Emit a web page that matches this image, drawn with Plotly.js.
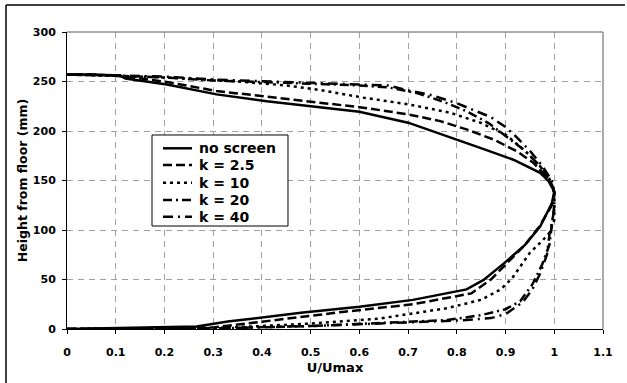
<!DOCTYPE html>
<html>
<head>
<meta charset="utf-8">
<script src="https://cdn.plot.ly/plotly-3.0.1.min.js"></script>
<style>html,body{margin:0;padding:0;background:#fff;}#chart{width:627px;height:383px;}</style>
</head>
<body>
<div id="chart"></div>
<script>
// Series names
const seriesNames = ["no screen", "k = 2.5", "k = 10", "k = 20", "k = 40"];

// no screen
const noScreenU = [0, 0.1, 0.2, 0.266, 0.33, 0.4, 0.48, 0.6, 0.71, 0.82, 0.855, 0.896, 0.94, 0.971, 0.995, 1.0,
  0.995, 0.971, 0.916, 0.848, 0.80, 0.70, 0.60, 0.505, 0.41, 0.307, 0.205, 0.12, 0.109, 0.05, 0];
const noScreenH = [0, 0.8, 1.5, 2.5, 7.5, 12, 16.5, 22.5, 29.4, 40, 49.6, 66, 85, 103.6, 127, 138,
  146, 157.7, 171, 183, 191.5, 208.4, 219.5, 224.6, 230, 237, 247, 253, 256, 257, 257];

// k = 2.5
const k25U = [0, 0.1, 0.2, 0.3, 0.4, 0.57, 0.71, 0.83, 0.87, 0.9, 0.94, 0.97, 0.995, 1.0,
  0.985, 0.957, 0.923, 0.875, 0.82, 0.766, 0.70, 0.608, 0.54, 0.41, 0.307, 0.205, 0.12, 0.05, 0];
const k25H = [0, 0.5, 0.8, 1.5, 7.4, 17.5, 25, 36, 50, 65, 85, 104, 125, 138,
  153, 168, 179.6, 191.5, 201.6, 210, 216.8, 223.6, 227.6, 234.7, 240.4, 249.5, 255, 257, 257];

// k = 10
const k10U = [0, 0.1, 0.2, 0.3, 0.4, 0.5, 0.64, 0.78, 0.85, 0.89, 0.913, 0.93, 0.95, 0.975, 0.99, 1.0, 1.0,
  0.99, 0.97, 0.94, 0.90, 0.848, 0.786, 0.70, 0.608, 0.52, 0.45, 0.35, 0.25, 0.15, 0.05, 0];
const k10H = [0, 0.3, 0.5, 1.0, 3, 5.5, 10.5, 21, 29.5, 40, 51, 63, 77, 89, 97, 110, 138,
  152, 165, 180, 196.5, 208.4, 218.5, 227, 233.7, 241.4, 246, 250, 253, 255, 256.5, 257];

// k = 20
const k20U = [0, 0.1, 0.2, 0.3, 0.5, 0.65, 0.78, 0.85, 0.9, 0.93, 0.955, 0.975, 0.99, 0.995, 1.0, 1.0,
  0.99, 0.97, 0.94, 0.9, 0.865, 0.82, 0.77, 0.72, 0.66, 0.6, 0.5, 0.4, 0.3, 0.2, 0.1, 0];
const k20H = [0, 0.2, 0.4, 0.6, 3, 6, 9, 14, 20, 28, 45, 65, 85, 105, 125, 138,
  150, 165, 180, 195, 208, 220, 230, 238, 244, 246, 248, 249.5, 251, 254, 256, 257];

// k = 40
const k40U = [0, 0.1, 0.2, 0.3, 0.5, 0.65, 0.8, 0.87, 0.9, 0.935, 0.955, 0.97, 0.985, 0.99, 1.0, 1.0,
  0.995, 0.975, 0.95, 0.92, 0.9, 0.87, 0.8, 0.75, 0.7, 0.66, 0.6, 0.5, 0.4, 0.3, 0.2, 0.1, 0];
const k40H = [0, 0.2, 0.4, 0.6, 3, 6, 8.5, 11, 15, 27, 40, 55, 75, 95, 120, 138,
  150, 165, 180, 195, 204, 214, 228, 236, 241, 246, 247, 248.5, 250, 252, 255, 256, 257];

// Axis ticks
const xTicks = [0, 0.1, 0.2, 0.3, 0.4, 0.5, 0.6, 0.7, 0.8, 0.9, 1, 1.1];
const yTicks = [0, 50, 100, 150, 200, 250, 300];

const FONT = "DejaVu Sans, Verdana, sans-serif";
const xs = [noScreenU, k25U, k10U, k20U, k40U];
const ys = [noScreenH, k25H, k10H, k20H, k40H];
const dashes = ["solid", "9px,4px", "3px,4px", "9px,4px,2px,4px", "10px,5px,2px,5px"];

const traces = xs.map((x, i) => ({
  x: x, y: ys[i], name: seriesNames[i], type: "scatter", mode: "lines",
  line: {color: "#000", width: 2.5, dash: dashes[i]}
}));

// Hand-built legend (box, sample lines, labels) in paper coordinates
const legBox = {x0: 0.1586, x1: 0.4123, y0: 0.3468, y1: 0.6532};
const legRowY = [0.6084, 0.5522, 0.4926, 0.4343, 0.3781];
const legLineX = [0.1791, 0.2332];
const legTextX = 0.2425;

const shapes = [
  {type: "line", xref: "paper", yref: "paper", x0: 0, x1: 1, y0: 1, y1: 1, line: {color: "#909090", width: 1.5}},
  {type: "line", xref: "paper", yref: "paper", x0: 1, x1: 1, y0: 0, y1: 1, line: {color: "#909090", width: 1.5}},
  {type: "line", xref: "paper", yref: "paper", x0: -0.1138, x1: 1.041, y0: 1.0909, y1: 1.0909, line: {color: "#000", width: 1.5}},
  {type: "line", xref: "paper", yref: "paper", x0: -0.1138, x1: -0.1138, y0: -0.19, y1: 1.0909, line: {color: "#000", width: 1.5}},
  {type: "rect", xref: "paper", yref: "paper", x0: legBox.x0, x1: legBox.x1, y0: legBox.y0, y1: legBox.y1,
   line: {color: "#000", width: 1}, fillcolor: "#fff", layer: "above"}
];
const annotations = [];
seriesNames.forEach((n, i) => {
  shapes.push({type: "line", xref: "paper", yref: "paper", x0: legLineX[0], x1: legLineX[1],
    y0: legRowY[i], y1: legRowY[i], line: {color: "#000", width: 2.5, dash: dashes[i]}, layer: "above"});
  annotations.push({xref: "paper", yref: "paper", x: legTextX, y: legRowY[i], xanchor: "left", yanchor: "middle",
    text: n, showarrow: false, font: {family: FONT, size: 14, color: "#000", weight: "bold"}});
});

const layout = {
  width: 627, height: 383,
  margin: {l: 67, r: 24, t: 32, b: 54},
  paper_bgcolor: "#fff", plot_bgcolor: "#fff",
  font: {family: FONT, color: "#000"},
  showlegend: false,
  xaxis: {
    range: [0, 1.1], tickvals: xTicks, ticktext: xTicks.map(String),
    showgrid: true, gridcolor: "#a0a0a0", griddash: "6px,5px", gridwidth: 1,
    showline: true, linecolor: "#000", linewidth: 1,
    ticks: "outside", ticklen: 4, tickcolor: "#000", zeroline: false,
    ticklabelstandoff: 9,
    tickfont: {size: 11, weight: "bold", family: FONT},
    title: {text: "U/Umax", font: {size: 13, weight: "bold", family: FONT}, standoff: 4}
  },
  yaxis: {
    range: [0, 300], tickvals: yTicks, ticktext: yTicks.map(String),
    showgrid: true, gridcolor: "#a0a0a0", griddash: "6px,5px", gridwidth: 1,
    showline: true, linecolor: "#000", linewidth: 1,
    ticks: "outside", ticklen: 4, tickcolor: "#000", zeroline: false,
    ticklabelstandoff: 4,
    tickfont: {size: 11, weight: "bold", family: FONT},
    title: {text: "Height from floor (mm)", font: {size: 12.5, weight: "bold", family: FONT}, standoff: 2}
  },
  shapes: shapes,
  annotations: annotations
};

Plotly.newPlot("chart", traces, layout, {staticPlot: true, displayModeBar: false});
</script>
</body>
</html>
